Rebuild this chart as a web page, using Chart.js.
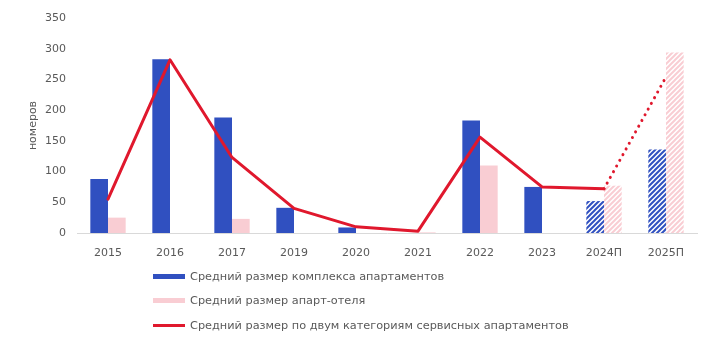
<!DOCTYPE html>
<html>
<head>
<meta charset="utf-8">
<script src="https://cdn.jsdelivr.net/npm/chart.js@4/dist/chart.umd.min.js"></script>
<style>
  html, body { margin: 0; padding: 0; background: #fff; }
  #wrap { position: relative; width: 712px; height: 357px; }
  #legend { position: absolute; left: 153px; top: 264px; font-family: "DejaVu Sans", Verdana, sans-serif; font-size: 11.3px; color: #595959; }
  .li { height: 24.5px; display: flex; align-items: center; }
  .sw { width: 32px; margin-right: 5px; }
</style>
</head>
<body>
<div id="wrap">
  <canvas id="c" width="712" height="357"></canvas>
  <div id="legend"></div>
</div>
<script>
const categories = ["2015", "2016", "2017", "2019", "2020", "2021", "2022", "2023", "2024П", "2025П"];
const complexValues = [88, 283, 188, 41, 9, 0, 183, 75, 52, 136];
const hotelValues = [25, 0, 23, 0, 0, 1, 110, 0, 77, 294];
const averageValues = [55, 282, 123, 40, 10, 3, 156, 75, 72, 254];
const seriesNames = [
  "Средний размер комплекса апартаментов",
  "Средний размер апарт-отеля",
  "Средний размер по двум категориям сервисных апартаментов"
];
const forecastFrom = 8;
const yTicks = { min: 0, max: 350, step: 50 };

const BLUE = "#3050c0", PINK = "#f9cdd3", RED = "#e0182d", GRAY = "#595959";

function hatch(color, bg) {
  const s = 5;
  const cv = document.createElement("canvas");
  cv.width = s; cv.height = s;
  const g = cv.getContext("2d");
  if (bg) { g.fillStyle = bg; g.fillRect(0, 0, s, s); }
  g.strokeStyle = color; g.lineWidth = 2;
  g.beginPath();
  g.moveTo(-1, s + 1); g.lineTo(s + 1, -1);
  g.moveTo(-1, 1); g.lineTo(1, -1);
  g.moveTo(s - 1, s + 1); g.lineTo(s + 1, s - 1);
  g.stroke();
  return g.createPattern(cv, "repeat");
}
const blueHatch = hatch(BLUE, "#ffffff");
const pinkHatch = hatch(PINK, "#ffffff");
const blueColors = categories.map((_, i) => i >= forecastFrom ? blueHatch : BLUE);
const pinkColors = categories.map((_, i) => i >= forecastFrom ? pinkHatch : PINK);

Chart.defaults.font.family = '"DejaVu Sans", Verdana, sans-serif';
Chart.defaults.font.size = 11;
Chart.defaults.color = GRAY;

const chart = new Chart(document.getElementById("c"), {
  data: {
    labels: categories,
    datasets: [
      { type: "line", label: seriesNames[2], data: averageValues, borderColor: RED, borderWidth: 3,
        pointRadius: 0, tension: 0, order: 0, borderCapStyle: "round", borderJoinStyle: "round",
        segment: { borderDash: ctx => ctx.p0DataIndex >= forecastFrom ? [0.01, 6.5] : undefined } },
      { type: "bar", label: seriesNames[0], data: complexValues, backgroundColor: blueColors, order: 1,
        barPercentage: 1, categoryPercentage: 0.57 },
      { type: "bar", label: seriesNames[1], data: hotelValues, backgroundColor: pinkColors, order: 2,
        barPercentage: 1, categoryPercentage: 0.57 }
    ]
  },
  options: {
    responsive: false,
    animation: false,
    events: [],
    layout: { padding: { left: 27, right: 15, top: 18, bottom: 99 } },
    plugins: { legend: { display: false }, tooltip: { enabled: false } },
    scales: {
      x: {
        grid: { display: false },
        border: { color: "#d9d9d9" },
        ticks: { color: GRAY, padding: 6 },
        afterFit: s => { s.height = 25; }
      },
      y: {
        min: yTicks.min, max: yTicks.max,
        grid: { display: false },
        border: { display: false },
        ticks: { stepSize: yTicks.step, color: GRAY, padding: 3 },
        title: { display: true, text: "номеров", color: GRAY, padding: 0 },
        afterFit: s => { s.width = 50; }
      }
    }
  }
});

const lg = document.getElementById("legend");
[[seriesNames[0], BLUE, 5], [seriesNames[1], PINK, 5], [seriesNames[2], RED, 3]].forEach(([t, c, h]) => {
  const row = document.createElement("div"); row.className = "li";
  const sw = document.createElement("div"); sw.className = "sw";
  sw.style.height = h + "px"; sw.style.background = c;
  const tx = document.createElement("span"); tx.textContent = t;
  row.appendChild(sw); row.appendChild(tx); lg.appendChild(row);
});
</script>
</body>
</html>
